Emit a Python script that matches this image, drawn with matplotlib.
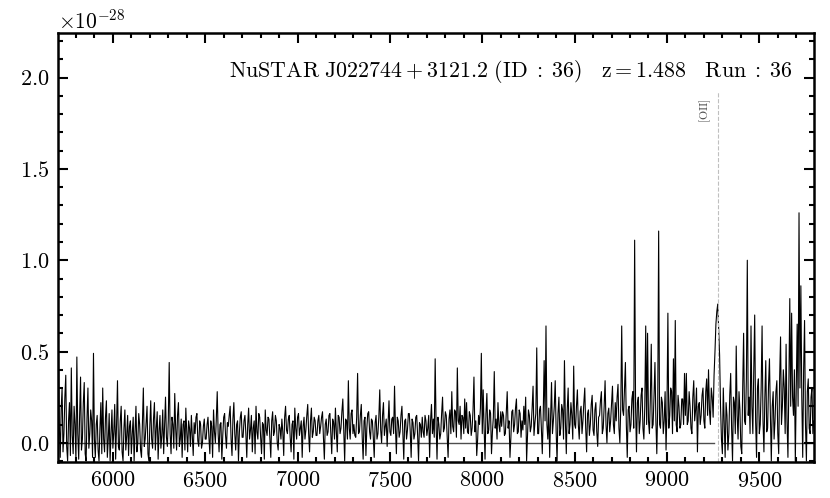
import numpy as np
import matplotlib
matplotlib.use('Agg')
import matplotlib.pyplot as plt
from matplotlib.ticker import MultipleLocator

plt.rcParams['font.family'] = 'serif'
plt.rcParams['font.serif'] = ['cmr10']
plt.rcParams['mathtext.fontset'] = 'cm'
plt.rcParams['axes.formatter.use_mathtext'] = True
plt.rcParams['axes.unicode_minus'] = True

# Spectrum, flux in units of 1e-28, sampled every 5 A from 5705 A (one row = 200 A)
wave_start = 5705
wave_step = 5
flux = [
    0.56, 0.10, -0.08, 0.18, 0.30, -0.05, 0.05, 0.25, 0.37, -0.02, -0.10, 0.12, 0.22, -0.07, 0.41, 0.04, -0.06, 0.20, 0.10, -0.10,
    0.47, 0.05, -0.09, 0.15, 0.36, -0.04, 0.02, 0.22, 0.33, -0.06, -0.10, 0.14, 0.30, -0.03, 0.05, 0.18, 0.12, -0.08, 0.49, 0.02,
    -0.08, 0.10, 0.15, -0.04, -0.10, 0.08, 0.22, -0.06, 0.30, 0.02, -0.05, 0.14, 0.23, -0.08, 0.02, 0.16, -0.10, 0.05, 0.18, -0.03,
    0.06, 0.21, -0.09, 0.10, 0.34, -0.02, -0.04, 0.12, 0.20, -0.05, -0.10, 0.08, 0.18, -0.04, 0.04, 0.15, -0.07, 0.09, 0.12, -0.06,
    0.05, 0.14, -0.10, 0.06, 0.20, -0.05, 0.00, 0.16, 0.10, -0.04, -0.08, 0.12, 0.30, -0.02, 0.02, 0.11, 0.20, -0.06, -0.10, 0.09,
    0.23, 0.02, -0.03, 0.13, 0.22, -0.04, 0.08, 0.17, -0.09, 0.06, 0.15, -0.03, 0.04, 0.18, -0.06, 0.10, 0.25, 0.03, -0.02, 0.12,
    0.44, 0.05, -0.06, 0.14, 0.10, -0.03, 0.27, 0.08, -0.04, 0.15, 0.22, -0.02, 0.02, 0.13, -0.08, 0.10, 0.12, -0.04, 0.19, 0.06,
    -0.05, 0.12, 0.08, -0.02, 0.15, 0.04, -0.07, 0.11, 0.05, 0.14, 0.16, 0.01, -0.02, 0.12, 0.10, -0.03, 0.00, 0.09, 0.13, 0.02,
    0.02, 0.10, 0.14, 0.03, -0.06, 0.12, 0.09, -0.08, 0.18, 0.06, 0.00, 0.13, 0.28, 0.05, -0.05, 0.10, 0.11, -0.09, 0.04, 0.14,
    0.16, 0.04, -0.03, 0.11, 0.09, 0.15, 0.20, 0.02, -0.07, 0.13, 0.22, 0.05, -0.04, 0.10, 0.12, -0.10, 0.06, 0.14, 0.17, 0.03,
    0.03, 0.12, 0.15, 0.05, -0.08, 0.10, 0.19, 0.02, 0.07, 0.15, -0.05, 0.08, 0.12, -0.06, 0.20, 0.06, 0.02, 0.16, 0.14, 0.03,
    -0.06, 0.11, 0.10, -0.09, 0.18, 0.07, 0.04, 0.14, 0.13, 0.02, -0.08, 0.12, 0.17, 0.04, 0.06, 0.15, 0.12, 0.00, -0.04, 0.10,
    0.08, 0.02, 0.13, 0.06, -0.07, 0.14, 0.20, 0.07, 0.05, 0.13, 0.15, 0.03, -0.05, 0.10, 0.12, -0.09, 0.19, 0.08, 0.02, 0.14,
    0.16, 0.04, 0.08, 0.12, -0.08, 0.09, 0.14, 0.02, 0.07, 0.15, 0.21, 0.05, -0.05, 0.12, 0.19, 0.03, 0.06, 0.14, 0.12, 0.04,
    0.04, 0.12, 0.15, 0.05, 0.09, 0.14, 0.17, 0.03, -0.09, 0.10, 0.13, 0.04, 0.06, 0.15, 0.16, 0.05, -0.06, 0.13, 0.11, 0.02,
    0.19, 0.06, -0.05, 0.15, 0.14, 0.05, 0.08, 0.17, 0.24, 0.06, -0.10, 0.13, 0.12, 0.02, 0.34, 0.08, 0.02, 0.16, 0.18, 0.05,
    0.10, 0.04, 0.03, 0.14, 0.38, 0.05, 0.06, 0.15, 0.21, 0.03, -0.09, 0.12, 0.14, -0.07, 0.08, 0.16, 0.17, 0.06, 0.02, 0.13,
    0.12, 0.03, -0.08, 0.11, 0.15, 0.02, 0.05, 0.14, 0.29, 0.07, 0.00, 0.15, 0.22, 0.04, 0.09, 0.13, -0.02, 0.10, 0.23, 0.06,
    0.04, 0.13, 0.14, 0.05, 0.31, 0.08, -0.06, 0.14, 0.12, 0.03, 0.06, 0.15, 0.20, 0.05, -0.09, 0.12, 0.13, 0.02, 0.07, 0.16,
    0.16, 0.06, -0.08, 0.13, 0.11, 0.02, 0.05, 0.14, 0.15, 0.04, -0.10, 0.11, 0.10, 0.03, 0.14, 0.06, 0.03, 0.15, 0.12, 0.04,
    0.08, 0.15, -0.08, 0.12, 0.21, 0.05, 0.13, 0.03, 0.46, 0.10, -0.09, 0.14, 0.10, 0.02, 0.05, 0.16, 0.25, 0.06, 0.08, 0.17,
    0.15, 0.04, -0.08, 0.13, 0.18, 0.05, 0.28, 0.09, 0.06, 0.18, 0.17, 0.03, 0.41, 0.12, 0.10, 0.20, 0.02, 0.15, 0.14, 0.05,
    0.24, 0.08, 0.22, 0.06, 0.05, 0.17, 0.15, 0.04, 0.08, 0.18, 0.36, 0.06, 0.12, -0.07, 0.02, 0.15, 0.10, 0.19, 0.49, 0.05,
    0.29, 0.08, -0.09, 0.16, 0.27, 0.05, 0.07, 0.18, 0.16, -0.06, 0.06, 0.14, 0.39, 0.08, 0.13, 0.02, 0.22, 0.10, 0.06, 0.17,
    0.09, 0.17, 0.15, 0.04, 0.05, 0.16, 0.28, 0.08, 0.12, -0.08, 0.03, 0.17, 0.18, 0.06, 0.10, 0.19, 0.24, 0.05, 0.06, 0.18,
    0.16, 0.03, 0.12, 0.07, 0.20, 0.10, 0.25, -0.10, 0.04, 0.18, 0.15, 0.06, 0.09, 0.19, 0.31, 0.04, 0.11, 0.16, 0.52, 0.05,
    0.05, 0.18, 0.20, 0.08, -0.06, 0.15, 0.45, 0.12, 0.64, 0.10, 0.02, 0.19, -0.08, 0.14, 0.33, 0.05, 0.12, 0.20, 0.34, 0.06,
    -0.10, 0.16, 0.25, 0.04, 0.08, 0.21, 0.18, 0.02, 0.45, 0.12, -0.06, 0.18, 0.30, 0.05, 0.10, 0.22, 0.15, 0.02, 0.42, 0.10,
    0.08, 0.20, 0.29, 0.10, 0.02, 0.17, 0.20, 0.05, 0.12, 0.22, 0.30, 0.08, -0.05, 0.16, 0.18, 0.04, 0.10, 0.21, 0.26, 0.07,
    0.04, 0.18, 0.22, 0.06, -0.02, 0.14, 0.15, 0.23, 0.28, 0.05, 0.08, 0.20, 0.34, 0.10, 0.00, 0.16, 0.19, 0.06, 0.12, 0.22,
    0.31, 0.10, 0.05, 0.22, 0.12, 0.25, 0.32, 0.08, 0.00, 0.20, 0.64, 0.18, 0.15, 0.30, 0.44, 0.10, -0.08, 0.18, 0.20, 0.06,
    0.10, 0.24, 0.28, 0.08, 1.11, 0.20, -0.05, 0.22, 0.25, 0.05, 0.12, 0.26, 0.30, 0.08, 0.02, 0.20, 0.64, 0.10, 0.60, 0.12,
    0.05, 0.24, 0.54, 0.08, 0.10, 0.26, 0.44, 0.12, -0.06, 0.20, 1.16, 0.10, 0.08, 0.25, 0.22, 0.05, 0.12, 0.28, -0.04, 0.18,
    0.71, 0.08, 0.15, 0.30, 0.28, 0.05, 0.46, 0.12, 0.67, 0.10, 0.06, 0.26, 0.20, 0.08, 0.10, 0.24, 0.24, 0.10, 0.38, 0.15,
    0.38, 0.10, 0.12, 0.28, 0.20, 0.08, 0.05, 0.25, 0.34, 0.12, 0.18, 0.30, -0.05, 0.20, 0.22, 0.10, 0.15, 0.26, 0.30, 0.12,
    0.08, 0.28, 0.35, 0.15, 0.40, 0.18, 0.10, 0.30, 0.25, 0.14, 0.37, 0.50, 0.65, 0.72, 0.76, 0.62, 0.48, 0.20, 0.02, -0.06,
    0.30, 0.10, -0.08, 0.22, 0.15, -0.04, 0.05, 0.26, 0.38, 0.08, -0.10, 0.25, 0.22, 0.05, 0.53, 0.15, 0.02, 0.28, 0.18, -0.02,
    -0.06, 0.30, 0.60, 0.12, 0.10, 0.35, 1.00, 0.15, 0.25, 0.05, 0.64, 0.20, 0.05, 0.40, 0.70, 0.12, -0.08, 0.30, 0.35, 0.05,
    0.10, 0.30, 0.64, 0.12, -0.05, 0.25, 0.45, 0.06, 0.08, 0.32, 0.46, 0.15, -0.10, 0.20, 0.28, 0.02, 0.12, 0.28, 0.34, 0.05,
    -0.06, 0.35, 0.58, 0.10, 0.20, 0.40, 0.30, 0.05, 0.54, 0.12, -0.08, 0.32, 0.79, 0.20, 0.71, 0.25, 0.15, 0.40, -0.10, 0.30,
    0.65, 0.20, 1.26, 0.30, 0.86, 0.25, -0.08, 0.40, 0.67, 0.10, -0.10, 0.28, 0.35, 0.08, 0.05, 0.25, 0.30, 0.05, 0.12,
]
flux_scale = 1e-28

# zero level, drawn outside the masked [OII] window
zero_ranges = [(5703, 9255), (9300, 9796)]

# emission line marker
line_name = r'$\mathrm{[OII]}$'
line_wave = 9273.8
line_top = 1.93

title = r'$\mathrm{NuSTAR\ J022744+3121.2\ (ID\;:\;36)\quad z=1.488\quad Run\;:\;36}$'

xlim = (5703, 9796)
ylim = (-0.107, 2.245)

wave = wave_start + wave_step * np.arange(len(flux))
flux = np.array(flux) * flux_scale

fig = plt.figure(figsize=(8.3, 4.98), dpi=100)
ax = fig.add_axes([0.0699, 0.0717, 0.9108, 0.862])

ax.plot(wave, flux, color='black', lw=0.8)
for x0, x1 in zero_ranges:
    ax.plot([x0, x1], [0, 0], color='0.3', lw=1.0, zorder=1)

ax.plot([line_wave, line_wave], [ylim[0] * flux_scale, line_top * flux_scale],
        color='0.75', ls='--', lw=0.8)
ax.text(line_wave - 22, 1.82 * flux_scale, line_name, rotation=90,
        ha='right', va='center', fontsize=8.5, color='0.3')

ax.text(0.972, 0.911, title, transform=ax.transAxes, ha='right', va='center', fontsize=15.8)

ax.set_xlim(*xlim)
ax.set_ylim(ylim[0] * flux_scale, ylim[1] * flux_scale)

ax.xaxis.set_major_locator(MultipleLocator(500))
ax.xaxis.set_minor_locator(MultipleLocator(100))
ax.yaxis.set_major_locator(MultipleLocator(0.5e-28))
ax.yaxis.set_minor_locator(MultipleLocator(0.1e-28))

ax.tick_params(which='both', direction='in', top=True, right=True, width=1.5, labelsize=16, pad=6)
ax.tick_params(which='major', length=7)
ax.tick_params(which='minor', length=3.5)
for s in ax.spines.values():
    s.set_linewidth(1.8)
ax.yaxis.get_offset_text().set_fontsize(15.5)

fig.savefig('out.png', dpi=100)
